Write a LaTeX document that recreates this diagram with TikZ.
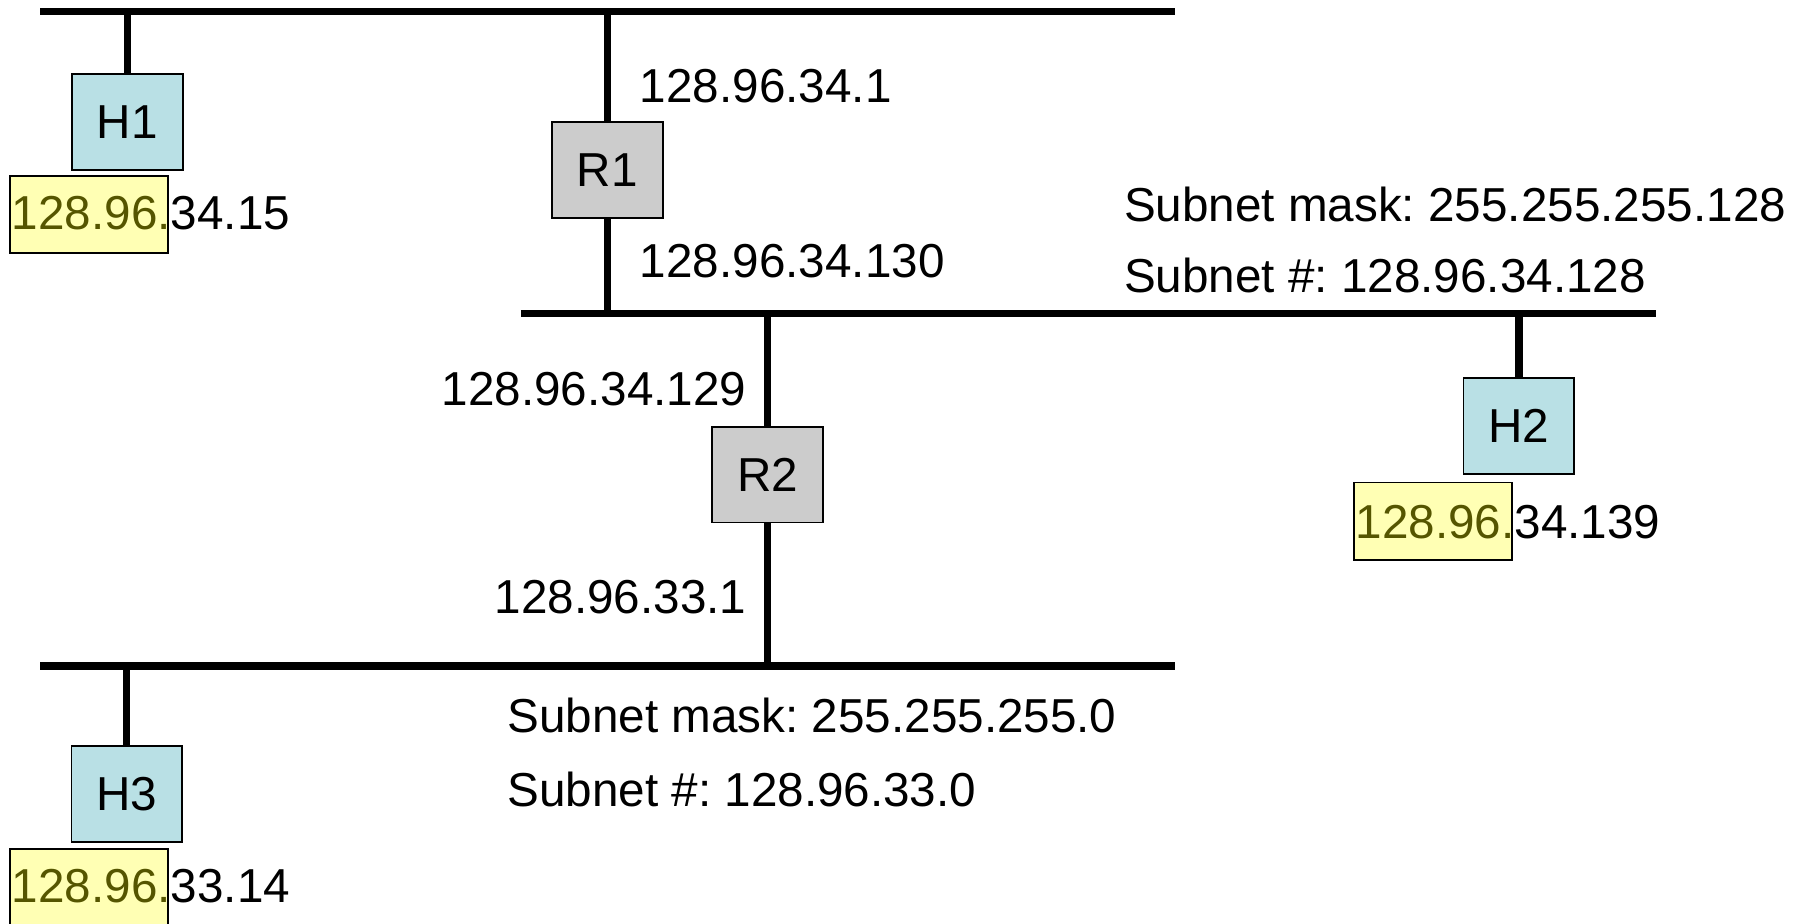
\documentclass[tikz,border=0pt]{standalone}
\usepackage{fontspec}
\setmainfont{Liberation Sans}
\definecolor{hostfill}{HTML}{B9E0E5}
\definecolor{routerfill}{HTML}{CCCCCC}
\definecolor{prefixfill}{HTML}{FFFFB4}
\definecolor{prefixtext}{HTML}{555500}
\begin{document}
\frenchspacing
\begin{tikzpicture}[x=0.6pt,y=-0.6pt,
  bus/.style={line width=3.8pt},
  devbox/.style={draw, line width=0.9pt, minimum width=57.6pt, minimum height=49.8pt, inner sep=0pt, font=\fontsize{24.8}{28}\selectfont},
  hostbox/.style={devbox, fill=hostfill},
  routerbox/.style={devbox, fill=routerfill},
  prefixbox/.style={draw, line width=0.9pt, fill=prefixfill, minimum width=82.2pt, minimum height=40.2pt, inner sep=0pt, anchor=north west},
  lbl/.style={inner sep=0pt, font=\fontsize{24.8}{28}\selectfont},
]
\useasboundingbox (0,0) rectangle (1568,801);

% bus end points
\coordinate (tbL) at (35,10);   \coordinate (tbR) at (1020,10);
\coordinate (mbL) at (452,272); \coordinate (mbR) at (1437,272);
\coordinate (bbL) at (35,578);  \coordinate (bbR) at (1020,578);

\draw[bus] (tbL) -- (tbR);
\draw[bus] (mbL) -- (mbR);
\draw[bus] (bbL) -- (bbR);

% devices
\node[hostbox]   (H1) at (110.5,106) {H1};
\node[routerbox] (R1) at (527,147.5) {R1};
\node[hostbox]   (H2) at (1318,369.5) {H2};
\node[routerbox] (R2) at (666,412) {R2};
\node[hostbox]   (H3) at (110,689) {H3};

% stems
\draw[bus] (H1.north) -- (H1.north |- tbL);
\draw[bus] (R1.north) -- (R1.north |- tbL);
\draw[bus] (R1.south) -- (R1.south |- mbL);
\draw[bus] (H2.north) -- (H2.north |- mbL);
\draw[bus] (R2.north) -- (R2.north |- mbL);
\draw[bus] (R2.south) -- (R2.south |- bbL);
\draw[bus] (H3.north) -- (H3.north |- bbL);

% host addresses
\node[prefixbox] (P1) at (8,152) {};
\node[lbl, anchor=base west] (A1) at (10,199) {\textcolor{prefixtext}{128.96.}34.15};
\node[prefixbox] (P2) at (1174,418) {};
\node[lbl, anchor=base west] (A2) at (1176,467) {\textcolor{prefixtext}{128.96.}34.139};
\node[prefixbox] (P3) at (8,736) {};
\node[lbl, anchor=base west] (A3) at (10,783) {\textcolor{prefixtext}{128.96.}33.14};

% router interface addresses
\node[lbl, anchor=base west] (r1a) at (555,89) {128.96.34.1};
\node[lbl, anchor=base west] (r1b) at (555,241) {128.96.34.130};
\node[lbl, anchor=base east] (r2a) at (648,352) {128.96.34.129};
\node[lbl, anchor=base east] (r2b) at (648,532) {128.96.33.1};

% subnet info
\node[lbl, anchor=base west] (s1m) at (975,192) {Subnet mask: 255.255.255.128};
\node[lbl, anchor=base west] (s1n) at (975,254) {Subnet \#: 128.96.34.128};
\node[lbl, anchor=base west] (s2m) at (440,636) {Subnet mask: 255.255.255.0};
\node[lbl, anchor=base west] (s2n) at (440,700) {Subnet \#: 128.96.33.0};
\end{tikzpicture}
\end{document}
